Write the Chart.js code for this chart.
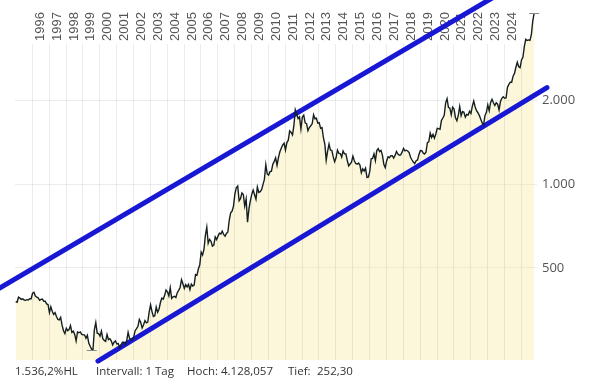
<!DOCTYPE html>
<html lang="de">
<head>
<meta charset="utf-8">
<title>Gold USD</title>
<script src="https://cdn.jsdelivr.net/npm/chart.js@4.4.1/dist/chart.umd.min.js"></script>
<style>
    html, body { margin: 0; padding: 0; background: #fff; }
    #chart { display: block; }
</style>
</head>
<body>
<canvas id="chart" width="590" height="384"></canvas>
<script>
// Monatswerte ab Januar 1995 (USD je Unze)
const startJahr = 1995;
const kurse1995bis2004 = [
    378, 376, 392, 389, 385, 387, 383, 382, 384, 383, 387, 387,
    405, 408, 396, 392, 390, 382, 385, 386, 379, 379, 371, 369,
    345, 362, 349, 340, 345, 334, 326, 325, 332, 311, 297, 290,
    303, 297, 300, 310, 293, 296, 288, 273, 294, 292, 294, 288,
    287, 287, 279, 286, 268, 261, 255, 254, 300, 318, 291, 290,
    284, 296, 278, 274, 272, 288, 276, 278, 273, 264, 270, 273,
    266, 267, 258, 264, 270, 270, 265, 273, 293, 279, 275, 277,
    282, 297, 302, 308, 326, 318, 304, 312, 323, 317, 319, 347,
    368, 348, 334, 336, 361, 346, 355, 375, 389, 386, 398, 416,
    410, 396, 424, 388, 393, 395, 391, 407, 415, 425, 453, 438
];
const kurse2005bis2014 = [
    422, 435, 427, 436, 417, 437, 430, 433, 473, 470, 495, 513,
    569, 556, 582, 654, 700, 613, 633, 623, 599, 604, 646, 632,
    650, 666, 662, 677, 659, 650, 665, 673, 743, 789, 800, 834,
    923, 971, 985, 871, 886, 930, 918, 834, 884, 730, 815, 870,
    919, 952, 916, 883, 976, 934, 939, 955, 996, 1040, 1175, 1088,
    1078, 1109, 1113, 1180, 1208, 1244, 1169, 1246, 1307, 1346, 1383, 1405,
    1327, 1411, 1439, 1556, 1536, 1505, 1628, 1850, 1780, 1722, 1746, 1580,
    1744, 1770, 1662, 1651, 1558, 1598, 1622, 1648, 1776, 1719, 1726, 1657,
    1664, 1588, 1598, 1469, 1394, 1220, 1314, 1394, 1326, 1324, 1253, 1204,
    1244, 1326, 1291, 1288, 1250, 1315, 1285, 1285, 1216, 1164, 1182, 1199
];
const kurse2015bis2025 = [
    1260, 1214, 1187, 1180, 1191, 1171, 1098, 1135, 1114, 1142, 1057, 1060,
    1111, 1234, 1237, 1286, 1215, 1320, 1342, 1309, 1322, 1272, 1178, 1146,
    1212, 1255, 1245, 1266, 1266, 1242, 1269, 1311, 1283, 1270, 1275, 1303,
    1345, 1318, 1325, 1316, 1298, 1250, 1224, 1201, 1187, 1214, 1222, 1279,
    1321, 1319, 1295, 1284, 1304, 1409, 1419, 1528, 1472, 1511, 1463, 1515,
    1589, 1585, 1577, 1694, 1730, 1768, 1962, 2030, 1886, 1879, 1776, 1891,
    1863, 1734, 1691, 1768, 1903, 1763, 1825, 1814, 1743, 1783, 1774, 1829,
    1796, 1909, 1990, 1896, 1837, 1807, 1765, 1711, 1660, 1633, 1768, 1812,
    1928, 1836, 1969, 2020, 1962, 1919, 1965, 1940, 1849, 1983, 2036, 2063,
    2039, 2044, 2233, 2286, 2327, 2326, 2447, 2503, 2634, 2744, 2643, 2624,
    2798, 2858, 3122, 3320, 3289, 3303, 3290, 3448, 3858, 4128
];

// Trendkanal (Jahr, Kurs)
const kanalOben = [{ x: 1993.5, y: 403 }, { x: 2024.0, y: 4950 }];
const kanalUnten = [{ x: 1999.92, y: 231 }, { x: 2026.55, y: 2225 }];

const jahre = [];
for (let j = 1996; j <= 2025; j++) jahre.push(j);
const jahresLabels = jahre.filter(j => j <= 2024);
const yTicks = [500, 1000, 2000];

const hoch = { x: 2025.79, y: 4128.057 };
const tief = { x: 1999.55, y: 252.30 };
const fussText = [
    { text: '1.536,2%HL', x: 15 },
    { text: 'Intervall: 1 Tag', x: 96 },
    { text: 'Hoch: 4.128,057', x: 187 },
    { text: 'Tief:', x: 288 },
    { text: '252,30', x: 317 }
];

const alleKurse = [...kurse1995bis2004, ...kurse2005bis2014, ...kurse2015bis2025];
const kursPunkte = alleKurse.map((v, i) => ({ x: startJahr + (i + 0.5) / 12, y: v }));

function formatDE(v) {
    return String(v).replace(/\B(?=(\d{3})+(?!\d))/g, '.');
}

const jahresPlugin = {
    id: 'jahresRaster',
    beforeDatasetsDraw(chart) {
        const { ctx, chartArea, scales: { x } } = chart;
        ctx.save();
        ctx.strokeStyle = 'rgba(0,0,0,0.075)';
        ctx.lineWidth = 1;
        jahre.forEach(j => {
            const px = Math.round(x.getPixelForValue(j)) + 0.5;
            ctx.beginPath();
            ctx.moveTo(px, 44);
            ctx.lineTo(px, chartArea.bottom);
            ctx.stroke();
        });
        ctx.fillStyle = '#555';
        ctx.font = '13px "Liberation Sans", Arial, sans-serif';
        ctx.textAlign = 'left';
        ctx.textBaseline = 'middle';
        jahresLabels.forEach(j => {
            const px = x.getPixelForValue(j + 0.5);
            ctx.save();
            ctx.translate(px, 41);
            ctx.rotate(-Math.PI / 2);
            ctx.fillText(String(j), 0, 0);
            ctx.restore();
        });
        ctx.restore();
    },
    afterDraw(chart) {
        const { ctx, scales: { x, y } } = chart;
        ctx.save();
        // Markierungen Hoch / Tief
        ctx.strokeStyle = '#888';
        ctx.lineWidth = 1;
        [hoch, tief].forEach(p => {
            const px = x.getPixelForValue(p.x);
            const py = Math.round(y.getPixelForValue(p.y)) + 0.5;
            ctx.beginPath();
            ctx.moveTo(px - 5, py);
            ctx.lineTo(px + 5, py);
            ctx.stroke();
        });
        ctx.fillStyle = '#333';
        ctx.font = '11.5px "Open Sans", sans-serif';
        ctx.textBaseline = 'middle';
        fussText.forEach(t => ctx.fillText(t.text, t.x, 372));
        ctx.restore();
    }
};

const kanalStil = {
    borderColor: '#1818d4',
    borderWidth: 5,
    borderCapStyle: 'round',
    pointRadius: 0,
    fill: false,
    clip: false,
    tension: 0
};

new Chart(document.getElementById('chart'), {
    type: 'line',
    data: {
        datasets: [
            {
                data: kursPunkte,
                borderColor: '#142020',
                borderWidth: 1.4,
                pointRadius: 0,
                tension: 0,
                fill: 'start',
                backgroundColor: 'rgba(247,233,150,0.35)'
            },
            { data: kanalOben, ...kanalStil },
            { data: kanalUnten, ...kanalStil }
        ]
    },
    options: {
        responsive: false,
        animation: false,
        devicePixelRatio: 1,
        layout: { padding: { left: 15, top: 10, right: 0, bottom: 24 } },
        scales: {
            x: { type: 'linear', min: 1995, max: 2025.96, display: false },
            y: {
                type: 'logarithmic',
                position: 'right',
                min: 233,
                max: 4135,
                afterBuildTicks: axis => { axis.ticks = yTicks.map(v => ({ value: v })); },
                afterFit: axis => { axis.width = 53; },
                grid: { color: 'rgba(0,0,0,0.075)', drawTicks: false },
                border: { display: false },
                ticks: {
                    padding: 5,
                    color: '#555',
                    font: { family: 'Open Sans', size: 13 },
                    callback: v => formatDE(v)
                }
            }
        },
        plugins: {
            legend: { display: false },
            tooltip: { enabled: false },
            filler: { drawTime: 'beforeDatasetsDraw' }
        }
    },
    plugins: [jahresPlugin]
});
</script>
</body>
</html>
